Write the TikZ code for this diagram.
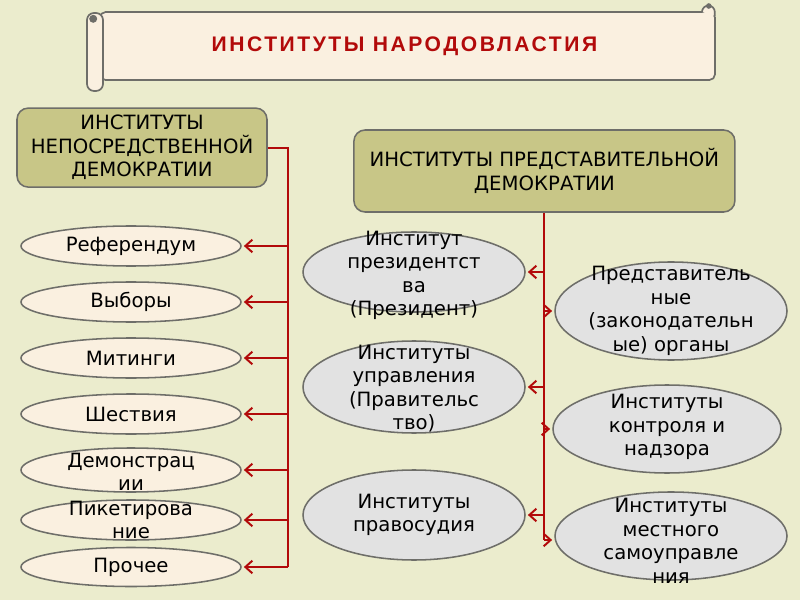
\documentclass[tikz,border=0pt]{standalone}
\usepackage{fontspec}
\setmainfont{DejaVu Sans}
\newfontfamily\titlefont[LetterSpace=12]{Liberation Sans}
\usetikzlibrary{shapes.geometric,arrows.meta}
\definecolor{bgcol}{RGB}{235,236,205}
\definecolor{paper}{RGB}{250,240,224}
\definecolor{headfill}{RGB}{200,198,135}
\definecolor{greyfill}{RGB}{226,226,226}
\definecolor{linegrey}{RGB}{110,110,105}
\definecolor{busred}{RGB}{178,10,10}
\tikzset{
  head/.style={draw=linegrey,line width=1.1pt,fill=headfill,rounded corners=8pt,align=center,
    font=\fontsize{14}{16.7}\selectfont,inner sep=0pt},
  lell/.style={ellipse,draw=linegrey,line width=1.1pt,fill=paper,minimum width=5.5cm,
    minimum height=1cm,inner sep=0pt},
  gell/.style={ellipse,draw=linegrey,line width=1.1pt,fill=greyfill,inner sep=0pt},
  txt/.style={align=center,font=\fontsize{14}{16.7}\selectfont,inner sep=0pt},
  bus/.style={draw=busred,line width=1.4pt},
  arr/.style={bus,-{Straight Barb[length=5pt,width=9pt]},shorten >=1.5pt},
  scroll/.style={draw=linegrey,line width=1.2pt,fill=paper}
}

\begin{document}
\begin{tikzpicture}
\useasboundingbox (0,0) rectangle (20,15);
\fill[bgcol] (0,0) rectangle (20,15);

\draw[scroll,rounded corners=4pt] (2.5,13.0) rectangle (17.875,14.7);
\draw[scroll,rounded corners=5pt] (2.175,12.725) rectangle (2.575,14.675);
\fill[linegrey] (2.33,14.53) circle (0.1);
\draw[scroll] (17.55,14.7) arc (180:0:0.16) -- (17.87,14.6);
\fill[linegrey] (17.72,14.85) circle (0.07);
\node (title) at (10.11,13.84) {\titlefont\bfseries\fontsize{15}{15}\selectfont\color{busred}ИНСТИТУТЫ НАРОДОВЛАСТИЯ};

\node[head,minimum width=6.25cm,minimum height=1.975cm] (lhead) at (3.55,11.31) {ИНСТИТУТЫ\\НЕПОСРЕДСТВЕННОЙ\\ДЕМОКРАТИИ};
\node[head,minimum width=9.525cm,minimum height=2.05cm] (rhead) at (13.61,10.725) {ИНСТИТУТЫ ПРЕДСТАВИТЕЛЬНОЙ\\ДЕМОКРАТИИ};

\node[lell] (ref) at (3.275,8.85) {};
\node[lell] (vyb) at (3.275,7.45) {};
\node[lell] (mit) at (3.275,6.05) {};
\node[lell] (shes) at (3.275,4.65) {};
\node[lell,minimum height=1.1cm] (dem) at (3.275,3.25) {};
\node[lell] (pik) at (3.275,2.0) {};
\node[lell,minimum height=0.975cm] (pro) at (3.275,0.825) {};

\node[txt] (ref-t) at (ref) {Референдум};
\node[txt] (vyb-t) at (vyb) {Выборы};
\node[txt] (mit-t) at (mit) {Митинги};
\node[txt] (shes-t) at (shes) {Шествия};
\node[txt] (dem-t) at (3.275,3.2) {Демонстрац\\ии};
\node[txt] (pik-t) at (pik) {Пикетирова\\ние};
\node[txt] (pro-t) at (pro) {Прочее};

\node[gell,minimum width=5.55cm,minimum height=2cm] (prez) at (10.35,8.2) {};
\node[gell,minimum width=5.55cm,minimum height=2.3cm] (prav) at (10.35,5.325) {};
\node[gell,minimum width=5.55cm,minimum height=2.25cm] (sud) at (10.35,2.125) {};

\node[txt] (prez-t) at (10.35,8.11) {Институт\\президентст\\ва\\(Президент)};
\node[txt] (prav-t) at (10.35,5.28) {Институты\\управления\\(Правительс\\тво)};
\node[txt] (sud-t) at (sud) {Институты\\правосудия};

\node[gell,minimum width=5.8cm,minimum height=2.45cm] (pred) at (16.775,7.225) {};
\node[gell,minimum width=5.7cm,minimum height=2.2cm] (kontr) at (16.675,4.275) {};
\node[gell,minimum width=5.8cm,minimum height=2.2cm] (mest) at (16.775,1.6) {};

\node[txt] (pred-t) at (pred) {Представитель\\ные\\(законодательн\\ые) органы};
\node[txt] (kontr-t) at (16.675,4.32) {Институты\\контроля и\\надзора};
\node[txt] (mest-t) at (16.775,1.475) {Институты\\местного\\самоуправле\\ния};

\coordinate (lbot) at (7.2,0.825);
\draw[bus] (lhead.east) -| (lbot);
\draw[arr] (ref -| lbot) -- (ref.east);
\draw[arr] (vyb -| lbot) -- (vyb.east);
\draw[arr] (mit -| lbot) -- (mit.east);
\draw[arr] (shes -| lbot) -- (shes.east);
\draw[arr] (dem -| lbot) -- (dem.east);
\draw[arr] (pik -| lbot) -- (pik.east);
\draw[arr] (pro -| lbot) -- (pro.east);

\coordinate (rbot) at (13.59,1.5);
\draw[bus] (rbot |- rhead.south) -- (rbot);
\draw[arr] (prez -| rbot) -- (prez.east);
\draw[arr] (prav -| rbot) -- (prav.east);
\draw[arr] (sud -| rbot) -- (sud.east);
\draw[arr] (pred -| rbot) -- (pred.west);
\draw[arr] (kontr -| rbot) -- (kontr.west);
\draw[arr] (rbot) -- (rbot -| mest.west);
\end{tikzpicture}
\end{document}
